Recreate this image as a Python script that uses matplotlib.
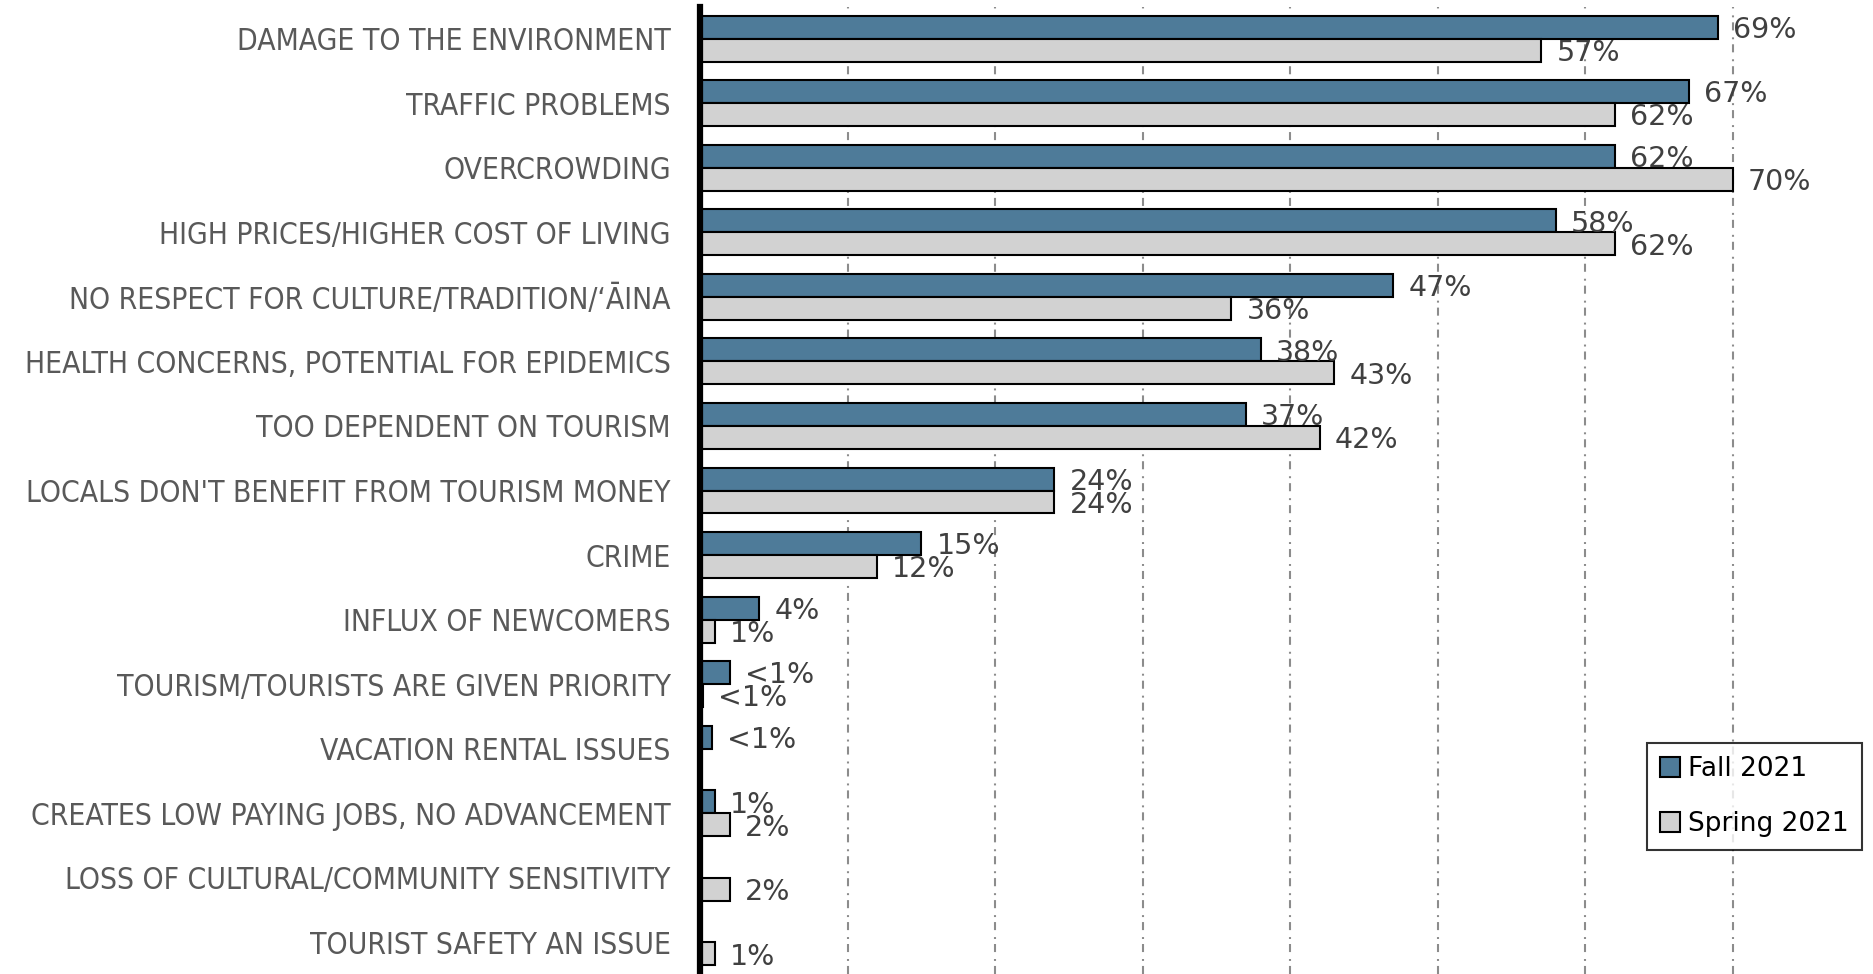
import numpy as np
import matplotlib
matplotlib.use("Agg")
import matplotlib.pyplot as plt

## Data
categories = [
    "DAMAGE TO THE ENVIRONMENT",
    "TRAFFIC PROBLEMS",
    "OVERCROWDING",
    "HIGH PRICES/HIGHER COST OF LIVING",
    "NO RESPECT FOR CULTURE/TRADITION/\u2018\u0100INA",
    "HEALTH CONCERNS, POTENTIAL FOR EPIDEMICS",
    "TOO DEPENDENT ON TOURISM",
    "LOCALS DON'T BENEFIT FROM TOURISM MONEY",
    "CRIME",
    "INFLUX OF NEWCOMERS",
    "TOURISM/TOURISTS ARE GIVEN PRIORITY",
    "VACATION RENTAL ISSUES",
    "CREATES LOW PAYING JOBS, NO ADVANCEMENT",
    "LOSS OF CULTURAL/COMMUNITY SENSITIVITY",
    "TOURIST SAFETY AN ISSUE",
]

fall_2021 = [69, 67, 62, 58, 47, 38, 37, 24, 15, 4, 2.0, 0.8, 1, np.nan, np.nan]
fall_labels = ["69%", "67%", "62%", "58%", "47%", "38%", "37%", "24%", "15%", "4%",
               "<1%", "<1%", "1%", "", ""]

spring_2021 = [57, 62, 70, 62, 36, 43, 42, 24, 12, 1, 0.2, np.nan, 2, 2, 1]
spring_labels = ["57%", "62%", "70%", "62%", "36%", "43%", "42%", "24%", "12%", "1%",
                 "<1%", "", "2%", "2%", "1%"]

series_names = ["Fall 2021", "Spring 2021"]

## Styles
fall_color = "#4e7b99"
spring_color = "#d2d2d2"
plt.rcParams["lines.scale_dashes"] = False
plt.rcParams["font.family"] = ["DejaVu Sans"]


def main():
    fig = plt.figure(figsize=(18.73, 9.74), dpi=100)
    ax = fig.add_axes([700 / 1873, 0.0, 1 - 700 / 1873, 1 - 7 / 974])

    y = np.arange(len(categories))
    h = 0.356

    bars_fall = ax.barh(y - h / 2, fall_2021, height=h, color=fall_color,
                        edgecolor="black", linewidth=1.5, label=series_names[0], zorder=3)
    bars_spring = ax.barh(y + h / 2, spring_2021, height=h, color=spring_color,
                          edgecolor="black", linewidth=1.5, label=series_names[1], zorder=3)

    # Value labels next to each bar
    for bars, vals, labels in [(bars_fall, fall_2021, fall_labels),
                               (bars_spring, spring_2021, spring_labels)]:
        for bar, v, lab in zip(bars, vals, labels):
            if not lab:
                continue
            yc = bar.get_y() + bar.get_height() / 2
            ax.annotate(lab, xy=(v, yc), xytext=(11, -2), textcoords="offset points",
                        ha="left", va="center", fontsize=20.5, color="#404040", zorder=4)

    # Axes
    ax.set_ylim(14.49, -0.49)
    ax.set_xlim(0, 79.5)
    ax.set_yticks(y)
    ax.set_yticklabels(categories, fontsize=21.5, color="#595959",
                       family="DejaVu Sans", fontstretch="condensed")
    ax.set_xticks(np.arange(0, 80, 10))
    ax.set_xticklabels([])
    ax.tick_params(axis="both", length=0)
    ax.tick_params(axis="y", pad=21)
    ax.grid(axis="x", color="#8c8c8c", linewidth=1.5, linestyle=(0, (5.8, 3.6, 1.4, 5.0)), zorder=0)

    for side in ["top", "right", "bottom"]:
        ax.spines[side].set_visible(False)
    ax.spines["left"].set_linewidth(4.5)
    ax.spines["left"].set_color("black")
    ax.spines["left"].set_zorder(5)

    leg = ax.legend(loc="upper right", bbox_to_anchor=(1862 / 1873, 1 - 743 / 974),
                    bbox_transform=fig.transFigure, borderaxespad=0, fontsize=19,
                    frameon=True, fancybox=False, handlelength=0.75, handleheight=0.75,
                    handletextpad=0.3, labelspacing=1.1, borderpad=0.5)
    leg.get_frame().set_edgecolor("black")
    leg.get_frame().set_linewidth(1.5)
    for t in leg.get_texts():
        t.set_color("black")

    fig.savefig("out.png", dpi=100)


if __name__ == "__main__":
    main()
